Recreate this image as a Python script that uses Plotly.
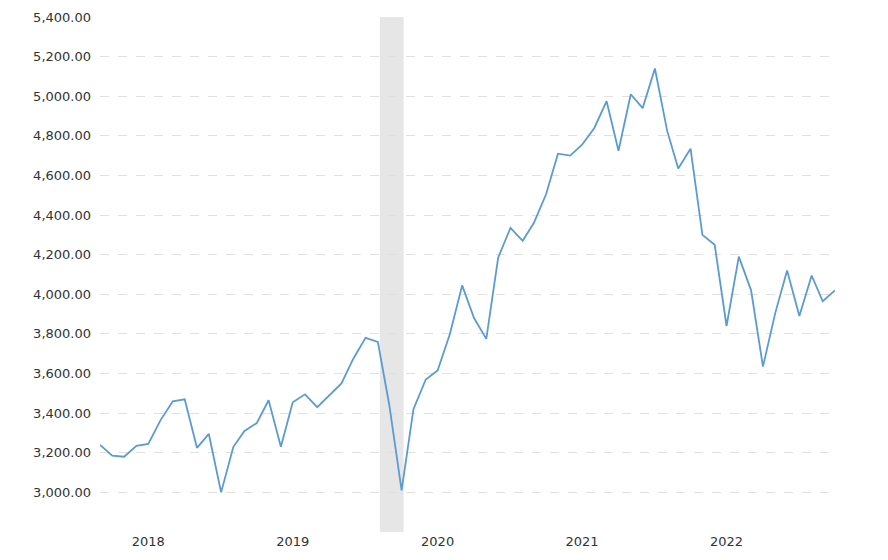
import plotly.graph_objects as go
import pandas as pd

dates = pd.date_range("2018-03-01", periods=62, freq="MS")
values = [3240,3185,3180,3235,3245,3365,3460,3470,3225,3295,3000,3230,3310,3350,3465,3230,
          3455,3495,3430,3490,3550,3675,3780,3760,3440,3010,3420,3570,3615,3800,4045,3880,
          3775,4185,4335,4270,4360,4505,4710,4700,4755,4840,4975,4725,5010,4940,5140,4825,
          4635,4735,4300,4250,3840,4190,4020,3635,3905,4120,3890,4095,3965,4020]
year_labels = ["2018","2019","2020","2021","2022"]
year_ticks = [f"{y}-07-01" for y in year_labels]
y_ticks = list(range(2800, 5401, 200))
y_text = ["" if v == 2800 else f"{v:,.2f}" for v in y_ticks]
recession = ("2020-02-06", "2020-04-06")

fig = go.Figure(go.Scatter(x=dates, y=values, mode="lines",
                           line=dict(color="#5b9bd0", width=1.8), hoverinfo="skip"))
fig.add_vrect(x0=recession[0], x1=recession[1], fillcolor="#e6e6e6", opacity=1,
              line_width=0, layer="below")
fig.update_layout(
    width=872, height=544, margin=dict(l=92, r=45, t=9, b=20),
    plot_bgcolor="white", paper_bgcolor="white", showlegend=False,
    font=dict(family="DejaVu Sans", size=13, color="#333333"),
    xaxis=dict(range=[dates[0], dates[-1]], tickvals=year_ticks, ticktext=year_labels,
               showgrid=False, zeroline=False, showline=False, ticks="", automargin=False),
    yaxis=dict(range=[2800, 5400], tickvals=y_ticks, ticktext=y_text, automargin=False,
               showgrid=True, gridcolor="#e0e0e0", griddash="dash", gridwidth=1,
               zeroline=False, showline=False, ticks="", ticklabelstandoff=8),
)
fig.write_html("out.html")
